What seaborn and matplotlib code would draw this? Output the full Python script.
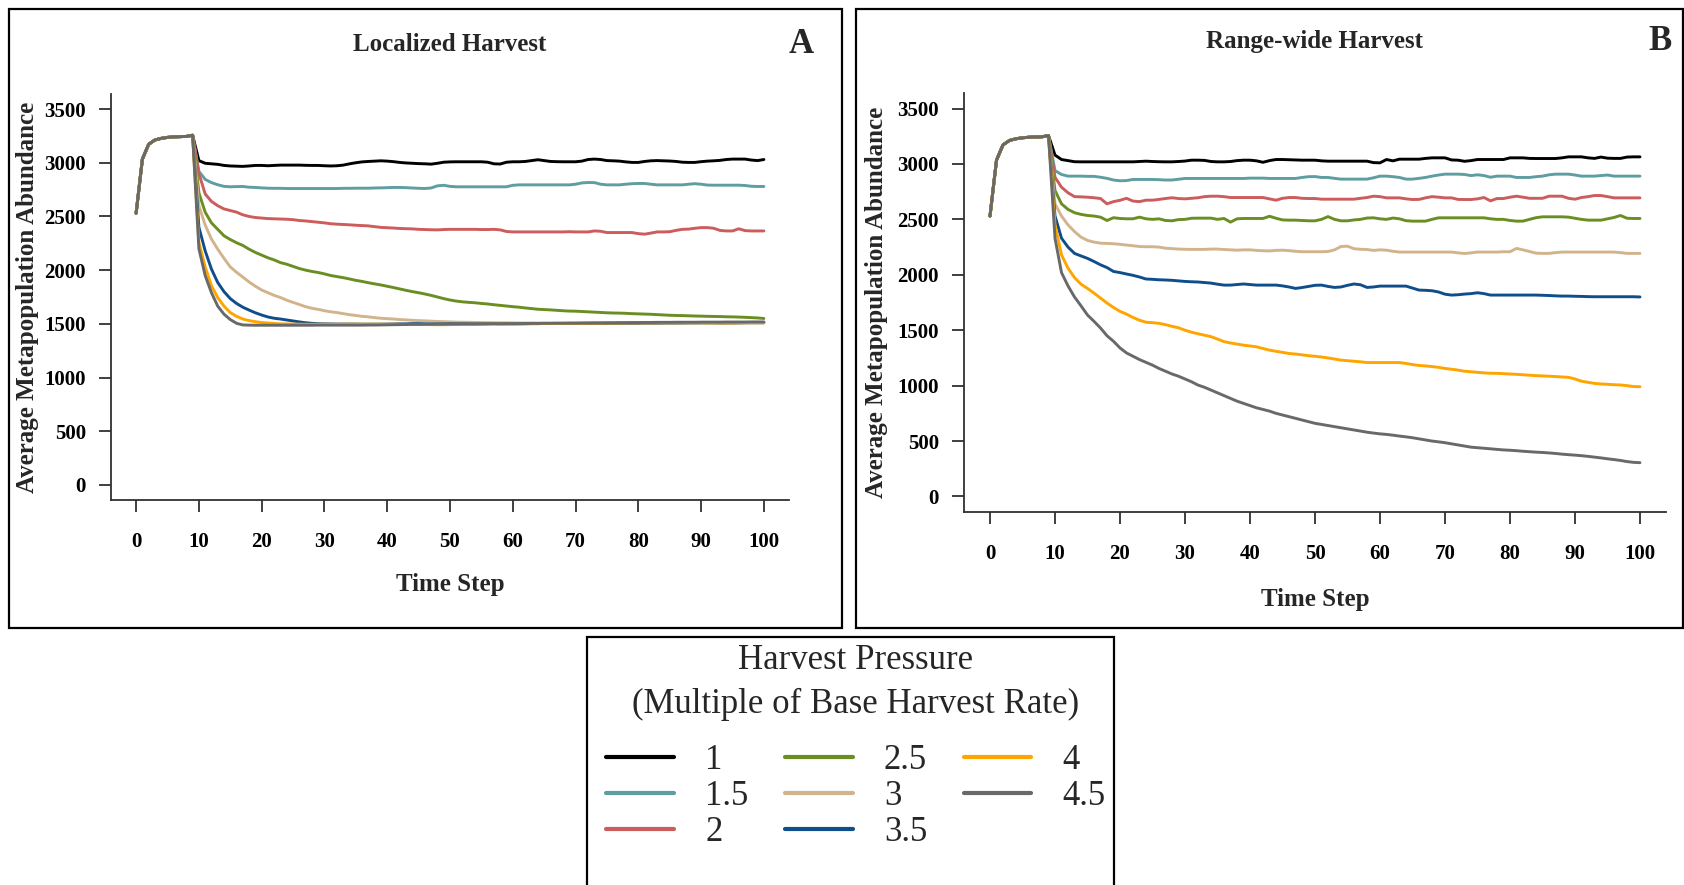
import matplotlib
matplotlib.use("Agg")
import matplotlib.pyplot as plt
import numpy as np
import pandas as pd
import seaborn as sns
from matplotlib.patches import Rectangle

# ---------------- data ----------------
PRESSURES = ["1", "1.5", "2", "2.5", "3", "3.5", "4", "4.5"]
COLORS = ["#000000", "#5F9EA0", "#CD5C5C", "#6B8E23", "#D2B48C", "#104E8B", "#FFA500", "#696969"]
TIME_TICKS = [0, 10, 20, 30, 40, 50, 60, 70, 80, 90, 100]
Y_TICKS = [0, 500, 1000, 1500, 2000, 2500, 3000, 3500]
PANEL_TITLES = ["Localized Harvest", "Range-wide Harvest"]
PANEL_LETTERS = ["A", "B"]
LEGEND_TITLE = "Harvest Pressure\n(Multiple of Base Harvest Rate)"

# time steps 0-9 (before harvest starts), shared by all scenarios
WARMUP = [2530, 3034, 3172, 3212, 3227, 3236, 3241, 3243, 3245, 3256]

# Panel A: localized harvest, time steps 10-100
LOCAL_1 = WARMUP + [
    3020, 2995, 2990, 2985, 2975, 2970, 2968, 2966, 2970, 2975,
    2975, 2972, 2975, 2978, 2978, 2978, 2978, 2976, 2975, 2975,
    2972, 2970, 2972, 2978, 2990, 3000, 3008, 3012, 3015, 3018,
    3015, 3010, 3003, 2998, 2995, 2992, 2990, 2987, 2995, 3005,
    3008, 3009, 3009, 3009, 3009, 3009, 3005, 2990, 2988, 3005,
    3009, 3009, 3012, 3020, 3028, 3020, 3012, 3010, 3009, 3009,
    3009, 3015, 3030, 3034, 3030, 3020, 3018, 3015, 3008, 3003,
    3003, 3012, 3018, 3020, 3018, 3016, 3012, 3005, 3003, 3003,
    3010, 3015, 3018, 3022, 3030, 3034, 3034, 3034, 3025, 3020,
    3030]
LOCAL_15 = WARMUP + [
    2920, 2845, 2815, 2795, 2780, 2776, 2778, 2779, 2772, 2770,
    2766, 2763, 2762, 2762, 2760, 2760, 2760, 2760, 2760, 2760,
    2760, 2760, 2760, 2762, 2762, 2763, 2763, 2763, 2765, 2766,
    2768, 2770, 2770, 2768, 2765, 2762, 2760, 2765, 2785, 2790,
    2780, 2776, 2776, 2776, 2776, 2776, 2776, 2776, 2776, 2776,
    2790, 2794, 2794, 2794, 2794, 2794, 2794, 2794, 2794, 2794,
    2800, 2812, 2816, 2815, 2800, 2794, 2794, 2794, 2800, 2805,
    2807, 2807, 2800, 2794, 2794, 2794, 2794, 2794, 2800, 2805,
    2800, 2792, 2791, 2791, 2791, 2791, 2791, 2788, 2781, 2779,
    2779]
LOCAL_2 = WARMUP + [
    2900, 2710, 2640, 2600, 2570, 2555, 2540, 2515, 2500, 2490,
    2485, 2480, 2478, 2476, 2474, 2470, 2462, 2458, 2452, 2446,
    2440, 2432, 2428, 2425, 2422, 2418, 2415, 2412, 2405, 2398,
    2395, 2392, 2388, 2386, 2384, 2380, 2378, 2376, 2375, 2378,
    2380, 2380, 2380, 2380, 2380, 2378, 2378, 2380, 2375, 2360,
    2356, 2356, 2356, 2356, 2356, 2356, 2356, 2356, 2356, 2358,
    2356, 2356, 2356, 2365, 2362, 2350, 2350, 2350, 2350, 2350,
    2340, 2335, 2345, 2356, 2356, 2358, 2370, 2380, 2382, 2390,
    2396, 2396, 2390, 2370, 2365, 2365, 2385, 2368, 2365, 2365,
    2365]
LOCAL_25 = WARMUP + [
    2720, 2540, 2440, 2380, 2320, 2285, 2255, 2230, 2195, 2165,
    2140, 2115, 2095, 2070, 2055, 2035, 2015, 2000, 1988, 1978,
    1965, 1950, 1940, 1930, 1918, 1905, 1895, 1883, 1872, 1862,
    1850, 1838, 1825, 1812, 1800, 1790, 1778, 1765, 1750, 1735,
    1722, 1712, 1705, 1700, 1696, 1690, 1685, 1678, 1672, 1666,
    1660, 1655, 1648, 1642, 1636, 1633, 1630, 1626, 1622, 1619,
    1618, 1615, 1612, 1609, 1606, 1603, 1601, 1600, 1598, 1595,
    1593, 1591, 1589, 1586, 1583, 1580, 1578, 1577, 1575, 1573,
    1572, 1570, 1569, 1568, 1566, 1565, 1563, 1561, 1558, 1555,
    1550]
LOCAL_3 = WARMUP + [
    2600, 2420, 2290, 2195, 2110, 2030, 1980, 1935, 1890, 1850,
    1815, 1790, 1765, 1745, 1720, 1700, 1680, 1660, 1645, 1635,
    1622, 1612, 1605, 1595, 1585, 1578, 1570, 1565, 1558, 1552,
    1548, 1545, 1540, 1537, 1533, 1530, 1528, 1525, 1522, 1520,
    1518, 1516, 1515, 1514, 1513, 1512, 1511, 1510, 1510, 1510,
    1509, 1508, 1508, 1508, 1507, 1507, 1507, 1507, 1506, 1506,
    1506, 1506, 1506, 1506, 1506, 1506, 1506, 1506, 1506, 1506,
    1507, 1507, 1507, 1508, 1508, 1508, 1508, 1509, 1509, 1509,
    1510, 1510, 1510, 1510, 1510, 1511, 1511, 1511, 1512, 1512,
    1512]
LOCAL_35 = WARMUP + [
    2400, 2180, 2010, 1885, 1800, 1735, 1690, 1655, 1628, 1603,
    1582, 1564, 1552, 1545, 1536, 1527, 1518, 1510, 1505, 1501,
    1500, 1499, 1498, 1498, 1498, 1498, 1497, 1497, 1497, 1497,
    1498, 1499, 1500, 1500, 1502, 1502, 1500, 1499, 1499, 1499,
    1500, 1500, 1500, 1500, 1498, 1500, 1501, 1502, 1500, 1500,
    1500, 1500, 1501, 1502, 1502, 1503, 1503, 1503, 1503, 1504,
    1504, 1504, 1505, 1505, 1505, 1505, 1505, 1506, 1506, 1506,
    1506, 1507, 1507, 1507, 1508, 1508, 1508, 1508, 1509, 1509,
    1509, 1509, 1509, 1508, 1508, 1508, 1509, 1510, 1510, 1510,
    1510]
LOCAL_4 = WARMUP + [
    2260, 2030, 1855, 1745, 1665, 1605, 1570, 1545, 1530, 1520,
    1512, 1508, 1503, 1500, 1499, 1498, 1497, 1496, 1496, 1496,
    1496, 1496, 1496, 1497, 1497, 1497, 1497, 1497, 1497, 1497,
    1496, 1496, 1495, 1495, 1495, 1494, 1494, 1493, 1492, 1492,
    1493, 1494, 1495, 1496, 1497, 1498, 1499, 1499, 1500, 1500,
    1500, 1500, 1501, 1502, 1502, 1503, 1503, 1504, 1504, 1505,
    1505, 1505, 1506, 1506, 1506, 1507, 1507, 1508, 1508, 1509,
    1509, 1509, 1509, 1510, 1510, 1510, 1510, 1510, 1510, 1510,
    1510, 1509, 1509, 1508, 1508, 1508, 1509, 1510, 1510, 1510,
    1510]
LOCAL_45 = WARMUP + [
    2200, 1950, 1790, 1665, 1590, 1540, 1505, 1490, 1488, 1487,
    1487, 1487, 1487, 1487, 1487, 1487, 1487, 1487, 1487, 1488,
    1488, 1488, 1488, 1488, 1488, 1488, 1488, 1489, 1489, 1490,
    1491, 1492, 1493, 1494, 1495, 1495, 1496, 1496, 1497, 1497,
    1498, 1498, 1499, 1499, 1500, 1500, 1500, 1501, 1501, 1502,
    1502, 1503, 1503, 1504, 1504, 1505, 1505, 1506, 1506, 1507,
    1507, 1508, 1508, 1509, 1509, 1510, 1510, 1511, 1511, 1512,
    1512, 1513, 1513, 1514, 1514, 1514, 1515, 1515, 1515, 1515,
    1516, 1516, 1516, 1516, 1517, 1517, 1517, 1517, 1518, 1518,
    1518]

# Panel B: range-wide harvest, time steps 10-100
RANGE_1 = WARMUP + [
    3080, 3040, 3030, 3020, 3019, 3019, 3019, 3019, 3019, 3019,
    3019, 3019, 3019, 3022, 3025, 3022, 3020, 3019, 3019, 3022,
    3026, 3034, 3034, 3032, 3022, 3019, 3019, 3022, 3030, 3034,
    3034, 3028, 3015, 3030, 3040, 3040, 3038, 3036, 3034, 3034,
    3034, 3028, 3025, 3025, 3025, 3025, 3025, 3025, 3025, 3012,
    3010, 3040, 3028, 3043, 3043, 3043, 3043, 3050, 3055, 3055,
    3055, 3036, 3034, 3024, 3030, 3040, 3040, 3040, 3040, 3040,
    3055, 3055, 3055, 3050, 3049, 3049, 3049, 3049, 3055, 3064,
    3064, 3064, 3055, 3050, 3062, 3052, 3050, 3050, 3062, 3064,
    3064]
RANGE_15 = WARMUP + [
    2940, 2905, 2890, 2890, 2890, 2888, 2888, 2880, 2870, 2855,
    2848, 2850, 2860, 2860, 2860, 2860, 2858, 2855, 2855, 2862,
    2869, 2869, 2869, 2869, 2869, 2869, 2869, 2869, 2869, 2869,
    2872, 2872, 2872, 2869, 2869, 2869, 2869, 2869, 2878, 2885,
    2886, 2878, 2878, 2870, 2863, 2863, 2863, 2863, 2863, 2875,
    2890, 2890, 2885, 2878, 2863, 2863, 2870, 2878, 2890, 2900,
    2908, 2908, 2908, 2905, 2895, 2902, 2895, 2880, 2890, 2890,
    2890, 2878, 2878, 2878, 2885, 2890, 2902, 2908, 2908, 2908,
    2900, 2890, 2890, 2890, 2895, 2900, 2890, 2890, 2890, 2890,
    2890]
RANGE_2 = WARMUP + [
    2880, 2790, 2740, 2705, 2703, 2700, 2695, 2688, 2640, 2660,
    2672, 2690, 2665, 2660, 2673, 2673, 2680, 2688, 2695, 2688,
    2685, 2690, 2695, 2705, 2709, 2709, 2705, 2697, 2697, 2697,
    2697, 2697, 2697, 2685, 2673, 2690, 2697, 2697, 2690, 2688,
    2688, 2682, 2682, 2682, 2682, 2682, 2682, 2690, 2697, 2709,
    2705, 2694, 2694, 2694, 2685, 2679, 2680, 2694, 2705, 2700,
    2694, 2694, 2680, 2679, 2679, 2685, 2697, 2667, 2688, 2688,
    2700, 2709, 2700, 2690, 2690, 2690, 2709, 2709, 2709, 2690,
    2682, 2697, 2705, 2715, 2715, 2705, 2694, 2694, 2694, 2694,
    2694]
RANGE_25 = WARMUP + [
    2760, 2640, 2590, 2560, 2545, 2535, 2530, 2520, 2490, 2515,
    2508, 2505, 2505, 2520, 2505, 2500, 2505, 2490, 2487, 2498,
    2500, 2510, 2511, 2511, 2511, 2500, 2508, 2475, 2505, 2508,
    2508, 2508, 2508, 2528, 2510, 2495, 2493, 2493, 2490, 2487,
    2487, 2500, 2525, 2500, 2487, 2487, 2495, 2500, 2512, 2514,
    2505, 2500, 2512, 2505, 2488, 2484, 2484, 2484, 2500, 2514,
    2514, 2514, 2514, 2514, 2514, 2514, 2514, 2505, 2500, 2500,
    2490, 2484, 2484, 2500, 2515, 2523, 2523, 2523, 2523, 2520,
    2510, 2500, 2493, 2493, 2493, 2505, 2517, 2535, 2510, 2508,
    2508]
RANGE_3 = WARMUP + [
    2640, 2530, 2450, 2390, 2340, 2310, 2295, 2285, 2283, 2280,
    2275, 2268, 2262, 2255, 2253, 2253, 2250, 2240, 2236, 2232,
    2230, 2229, 2229, 2229, 2232, 2232, 2228, 2225, 2222, 2225,
    2225, 2220, 2217, 2215, 2220, 2222, 2218, 2212, 2208, 2208,
    2208, 2208, 2210, 2225, 2255, 2258, 2235, 2230, 2228, 2220,
    2225, 2222, 2212, 2205, 2205, 2205, 2205, 2205, 2205, 2205,
    2205, 2205, 2198, 2192, 2198, 2205, 2205, 2205, 2205, 2208,
    2208, 2238, 2225, 2210, 2195, 2193, 2193, 2200, 2205, 2205,
    2205, 2205, 2205, 2205, 2205, 2205, 2205, 2200, 2193, 2193,
    2193]
RANGE_35 = WARMUP + [
    2530, 2330, 2250, 2193, 2170, 2148, 2120, 2090, 2065, 2030,
    2020, 2007, 1995, 1980, 1962, 1959, 1955, 1953, 1950, 1945,
    1940, 1937, 1935, 1930, 1925, 1915, 1907, 1907, 1912, 1917,
    1912, 1907, 1907, 1907, 1907, 1900, 1890, 1877, 1885, 1895,
    1905, 1907, 1895, 1886, 1890, 1905, 1917, 1910, 1886, 1890,
    1898, 1898, 1898, 1898, 1898, 1880, 1862, 1860, 1856, 1845,
    1825, 1817, 1820, 1826, 1830, 1838, 1830, 1817, 1817, 1817,
    1817, 1817, 1817, 1817, 1817, 1815, 1813, 1810, 1808, 1808,
    1806, 1805, 1803, 1802, 1802, 1802, 1802, 1802, 1802, 1802,
    1800]
RANGE_4 = WARMUP + [
    2450, 2180, 2060, 1975, 1915, 1877, 1835, 1790, 1745, 1705,
    1670, 1645, 1615, 1590, 1572, 1568, 1562, 1550, 1535, 1522,
    1500, 1482, 1468, 1455, 1442, 1420, 1397, 1385, 1375, 1365,
    1358, 1350, 1335, 1320, 1310, 1300, 1290, 1285, 1278, 1270,
    1265, 1258, 1250, 1240, 1230, 1225, 1220, 1215, 1208, 1208,
    1208, 1208, 1208, 1208, 1200, 1190, 1182, 1178, 1172, 1165,
    1155, 1148, 1140, 1130, 1125, 1120, 1115, 1112, 1111, 1108,
    1105, 1102, 1098, 1094, 1090, 1088, 1085, 1082, 1078, 1075,
    1060, 1040, 1030, 1020, 1015, 1012, 1008, 1006, 1000, 992,
    990]
RANGE_45 = WARMUP + [
    2330, 2020, 1900, 1800, 1720, 1637, 1580, 1520, 1450, 1400,
    1340, 1295, 1265, 1235, 1210, 1185, 1155, 1130, 1105, 1085,
    1060, 1035, 1005, 985, 960, 935, 910, 885, 860, 840,
    820, 800, 785, 770, 750, 735, 720, 705, 690, 675,
    660, 650, 640, 630, 620, 610, 600, 590, 580, 572,
    565, 560, 553, 545, 538, 530, 520, 510, 500, 493,
    485, 475, 465, 455, 445, 440, 435, 430, 425, 420,
    417, 413, 408, 404, 400, 397, 393, 388, 382, 377,
    373, 368, 362, 355, 348, 340, 333, 325, 315, 308,
    305]

LOCAL_SERIES = [LOCAL_1, LOCAL_15, LOCAL_2, LOCAL_25, LOCAL_3, LOCAL_35, LOCAL_4, LOCAL_45]
RANGE_SERIES = [RANGE_1, RANGE_15, RANGE_2, RANGE_25, RANGE_3, RANGE_35, RANGE_4, RANGE_45]


def long_frame(series_list):
    rows = []
    for label, values in zip(PRESSURES, series_list):
        assert len(values) == 101, (label, len(values))
        for t, v in enumerate(values):
            rows.append((t, v, label))
    return pd.DataFrame(rows, columns=["Time Step", "Abundance", "Pressure"])


# ---------------- figure ----------------
sns.set_theme(style="ticks")
plt.rcParams["font.family"] = ["Liberation Serif", "DejaVu Serif"]

W, H = 1684, 885
fig = plt.figure(figsize=(W / 100, H / 100), dpi=100)
fig.patch.set_facecolor("white")


def rect(l, t, r, b):
    return [l / W, 1 - b / H, (r - l) / W, (b - t) / H]


axA = fig.add_axes(rect(111, 94, 789, 500))
axB = fig.add_axes(rect(964, 93, 1666, 512))
palette = dict(zip(PRESSURES, COLORS))
AX_COLOR = "#303030"

panel_cfg = [
    (axA, LOCAL_SERIES, -0.123, -0.207, 1.018, 1.123),
    (axB, RANGE_SERIES, -0.124, -0.210, 0.991, 1.124),
]

for i, (ax, series, ylab_x, xlab_y, letter_x, title_y) in enumerate(panel_cfg):
    df = long_frame(series)
    sns.lineplot(data=df, x="Time Step", y="Abundance", hue="Pressure",
                 hue_order=PRESSURES, palette=palette, linewidth=2.1,
                 errorbar=None, ax=ax, legend=(i == 0))
    ax.set_xlim(-4, 104)
    ax.set_ylim(-140, 3640)
    ax.set_xticks(TIME_TICKS)
    ax.set_yticks(Y_TICKS)
    ax.set_facecolor("white")
    for s in ["top", "right"]:
        ax.spines[s].set_visible(False)
    for s in ["left", "bottom"]:
        ax.spines[s].set_linewidth(1.3)
        ax.spines[s].set_color(AX_COLOR)
    ax.tick_params(axis="both", direction="out", length=8.6, width=1.3,
                   color=AX_COLOR, labelsize=15, labelcolor="black")
    ax.tick_params(axis="y", pad=9.5)
    ax.tick_params(axis="x", pad=14.5)
    for lbl in ax.get_xticklabels() + ax.get_yticklabels():
        lbl.set_fontweight("bold")
    ax.set_xlabel("Time Step", fontsize=18, fontweight="bold")
    ax.xaxis.set_label_coords(0.5, xlab_y)
    ax.xaxis.label.set_va("center")
    ax.set_ylabel("Average Metapopulation Abundance", fontsize=18, fontweight="bold")
    ax.yaxis.set_label_coords(ylab_x, 0.5)
    ax.yaxis.label.set_va("center")
    ax.set_title(PANEL_TITLES[i], fontsize=18, fontweight="bold", y=title_y,
                 pad=0, va="center")
    ax.text(letter_x, title_y, PANEL_LETTERS[i], transform=ax.transAxes,
            ha="center", va="center", fontsize=25, fontweight="bold")

handles, labels = axA.get_legend_handles_labels()
axA.get_legend().remove()
for h in handles:
    h.set_linewidth(3.0)

leg = fig.legend(handles, labels, title=LEGEND_TITLE, ncol=3, frameon=False,
                 loc="upper center", bbox_to_anchor=(856 / W, 1 - 637 / H),
                 fontsize=25, title_fontsize=25, handlelength=1.95,
                 handletextpad=0.9, columnspacing=1.05, labelspacing=0.08,
                 borderaxespad=0.0, borderpad=0.2)
leg.get_title().set_multialignment("center")
leg.get_title().set_linespacing(1.43)
leg._legend_box.sep = 17

# outer frames
for (l, t, r, b) in [(9, 9, 842, 628), (856, 9, 1683, 628), (587, 637, 1114, 895)]:
    fig.add_artist(Rectangle((l / W, 1 - b / H), (r - l) / W, (b - t) / H,
                             transform=fig.transFigure, fill=False,
                             edgecolor="black", linewidth=1.6, clip_on=False))

fig.savefig("out.png", dpi=100, facecolor="white")
